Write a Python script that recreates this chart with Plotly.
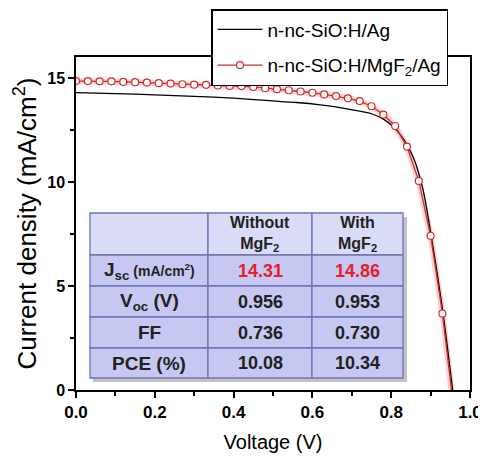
import plotly.graph_objects as go

# ---- data ----
v_ag = [0.0, 0.1, 0.2, 0.3, 0.4, 0.49, 0.56, 0.62, 0.66, 0.70, 0.75, 0.78, 0.805, 0.83, 0.856, 0.88,
        0.90, 0.93, 0.956]
j_ag = [14.31, 14.26, 14.20, 14.13, 14.04, 13.92, 13.83, 13.72, 13.62, 13.48, 13.29, 13.03, 12.67, 12.11,
        11.2, 9.7, 7.6, 3.9, 0.0]

v_mg = [0.0, 0.03, 0.06, 0.09, 0.12, 0.15, 0.18, 0.21, 0.24, 0.27, 0.30, 0.33, 0.36, 0.39, 0.42, 0.45,
        0.48, 0.51, 0.54, 0.57, 0.60, 0.63, 0.66, 0.69, 0.72, 0.75, 0.78, 0.81, 0.84, 0.87, 0.90, 0.93]
j_mg = [14.86, 14.86, 14.85, 14.85, 14.82, 14.81, 14.79, 14.76, 14.74, 14.71, 14.69, 14.68, 14.65, 14.63,
        14.62, 14.58, 14.52, 14.47, 14.42, 14.36, 14.30, 14.22, 14.14, 14.03, 13.90, 13.65, 13.25, 12.70,
        11.71, 10.06, 7.42, 3.68]
v_mg_end = [0.93, 0.953]
j_mg_end = [3.68, 0.0]

table_header = ["", "<b>Without</b><br><b>MgF<sub>2</sub></b>", "<b>With</b><br><b>MgF<sub>2</sub></b>"]
row_labels = ["<b>J<sub>sc</sub></b><b><span style='font-size:14px'> (mA/cm<sup>2</sup>)</span></b>",
              "<b>V<sub>oc</sub> (V)</b>", "<b>FF</b>", "<b>PCE (%)</b>"]
without_vals = ["14.31", "0.956", "0.736", "10.08"]
with_vals = ["14.86", "0.953", "0.730", "10.34"]
value_colors = ["#e8202a", "#222222", "#222222", "#222222"]

FONT = "Liberation Sans, Arial, sans-serif"

# ---- layout geometry (window pixels; page body has an 8px margin) ----
OFF = 8
W, H = 486 - OFF, 457 - OFF
ML, MR, MT, MB = 76 - OFF, 16, 57 - OFF, 67
PW, PH = W - ML - MR, H - MT - MB


def px(x):
    return (x - OFF - ML) / PW


def py(y):
    return (H - MB - (y - OFF)) / PH


fig = go.Figure()

red = "#d42a2a"
fig.add_trace(go.Scatter(x=v_mg + v_mg_end[1:], y=j_mg + j_mg_end[1:], mode="lines",
                         line=dict(color="rgba(240,120,120,0.35)", width=6), showlegend=False,
                         hoverinfo="skip"))
fig.add_trace(go.Scatter(x=v_ag, y=j_ag, mode="lines", name="n-nc-SiO:H/Ag",
                         line=dict(color="black", width=1.3, shape="spline", smoothing=0.8),
                         legendgroup="a"))
fig.add_trace(go.Scatter(x=v_mg_end, y=j_mg_end, mode="lines", line=dict(color=red, width=1.3),
                         showlegend=False))
fig.add_trace(go.Scatter(x=v_mg, y=j_mg, mode="lines+markers", name="n-nc-SiO:H/MgF<sub>2</sub>/Ag",
                         line=dict(color=red, width=1.3),
                         marker=dict(symbol="circle", size=7, color="white",
                                     line=dict(color=red, width=1.2)),
                         legendgroup="b"))

# ---- table drawn with shapes ----
col_x = [90, 208, 312, 403]
row_y = [213, 255, 286, 317, 348, 378]
shapes = []
# shadow
shapes.append(dict(type="rect", xref="paper", yref="paper", x0=px(col_x[0] + 3), x1=px(col_x[-1] + 4),
                   y0=py(row_y[-1] + 4), y1=py(row_y[0] + 4), fillcolor="rgba(80,80,90,0.35)",
                   line=dict(width=0), layer="above"))
for r in range(5):
    fill = "#dadbf7" if r == 0 else "#c6c8f1"
    for c in range(3):
        shapes.append(dict(type="rect", xref="paper", yref="paper",
                           x0=px(col_x[c]), x1=px(col_x[c + 1]),
                           y0=py(row_y[r + 1]), y1=py(row_y[r]),
                           fillcolor=fill, line=dict(color="#6f73b8", width=1.3), layer="above"))

annotations = []


def cell_text(txt, c, r, size, color="#222222"):
    annotations.append(dict(xref="paper", yref="paper", x=px((col_x[c] + col_x[c + 1]) / 2),
                            y=py((row_y[r] + row_y[r + 1]) / 2), text=txt, showarrow=False,
                            font=dict(family=FONT, size=size, color=color),
                            xanchor="center", yanchor="middle"))


for c in (1, 2):
    cell_text(table_header[c], c, 0, 16)
for i, lab in enumerate(row_labels):
    cell_text(lab, 0, i + 1, 19)
    cell_text("<b>" + without_vals[i] + "</b>", 1, i + 1, 18, value_colors[i])
    cell_text("<b>" + with_vals[i] + "</b>", 2, i + 1, 18, value_colors[i])

fig.update_layout(
    width=W, height=H, margin=dict(l=ML, r=MR, t=MT, b=MB, autoexpand=False),
    paper_bgcolor="white", plot_bgcolor="white",
    font=dict(family=FONT, color="black"),
    shapes=shapes, annotations=annotations,
    legend=dict(x=px(211), y=py(9), xanchor="left", yanchor="top",
                bgcolor="white", bordercolor="black", borderwidth=1.5,
                font=dict(family=FONT, size=19, color="black"),
                itemwidth=45, tracegroupgap=8, traceorder="grouped"),
    xaxis=dict(range=[0, 1.0], tickmode="array", tickvals=[0, 0.2, 0.4, 0.6, 0.8, 1.0],
               ticktext=["<b>0.0</b>", "<b>0.2</b>", "<b>0.4</b>", "<b>0.6</b>", "<b>0.8</b>", "<b>1.0</b>"],
               ticks="outside", ticklen=6, tickwidth=1.5, tickcolor="black",
               minor=dict(dtick=0.1, ticks="outside", ticklen=4, tickwidth=1.5, tickcolor="black"),
               showline=True, linecolor="black", linewidth=1.5, mirror=True,
               showgrid=False, zeroline=False, automargin=False,
               tickfont=dict(size=17, family=FONT),
               title=dict(text="Voltage (V)", font=dict(size=20, family=FONT), standoff=14)),
    yaxis=dict(range=[0, 16.02], tickmode="array", tickvals=[0, 5, 10, 15],
               ticktext=["<b>0</b>", "<b>5</b>", "<b>10</b>", "<b>15</b>"],
               ticks="outside", ticklen=6, tickwidth=1.5, tickcolor="black",
               minor=dict(tickvals=[2.5, 7.5, 12.5], ticks="outside", ticklen=4, tickwidth=1.5,
                          tickcolor="black"),
               showline=True, linecolor="black", linewidth=1.5, mirror=True,
               showgrid=False, zeroline=False, automargin=False,
               tickfont=dict(size=16, family=FONT),
               title=dict(text="Current density (mA/cm<sup>2</sup>)", font=dict(size=26, family=FONT),
                          standoff=3)),
)

fig.write_html("out.html")
